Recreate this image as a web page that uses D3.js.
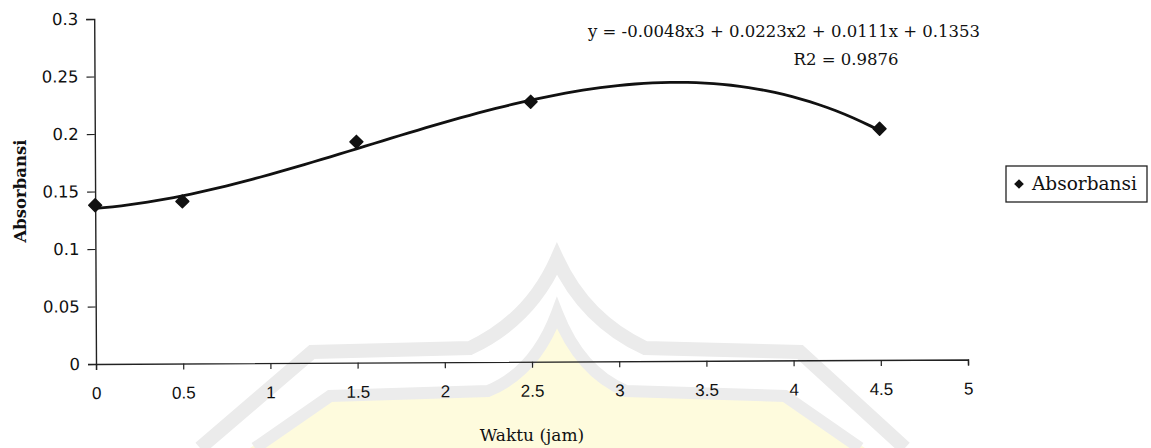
<!DOCTYPE html>
<html>
<head>
<meta charset="utf-8">
<script src="https://cdn.jsdelivr.net/npm/d3@7"></script>
<style>
  body { margin: 0; background: #fff; }
  svg { display: block; }
</style>
</head>
<body>
<div id="vis"></div>
<script>
// data
const waktu = [0, 0.5, 1.5, 2.5, 4.5];
const absorbansi = [0.138, 0.141, 0.192, 0.226, 0.201];
// trendline coefficients as printed on the chart (x^3, x^2, x, c)
const trendCoef = [-0.0048, 0.0223, 0.0111, 0.1353];
const xTicks = [0, 0.5, 1, 1.5, 2, 2.5, 3, 3.5, 4, 4.5, 5];
const yTicks = [0, 0.05, 0.1, 0.15, 0.2, 0.25, 0.3];

const W = 1151, H = 448;
const margin = {top: 19, left: 96};
const plotW = 872, plotH = 345;

const svg = d3.select('#vis').append('svg')
  .attr('width', W).attr('height', H);

// faint watermark from the scanned page
const wm = svg.append('g');
wm.append('path')
  .attr('d', 'M250,448 L330,396 L488,391 Q535,372 557,313 Q580,372 626,391 L785,396 L865,448 Z')
  .attr('fill', '#fefbdd');
wm.append('path')
  .attr('d', 'M200,448 L312,352 L470,348 Q530,320 557,259 Q585,320 645,348 L800,352 L905,448')
  .attr('fill', 'none').attr('stroke', '#ebebeb').attr('stroke-width', 14);
wm.append('path')
  .attr('d', 'M255,448 L330,396 L488,391 Q535,372 557,313 Q580,372 626,391 L785,396 L860,448')
  .attr('fill', 'none').attr('stroke', '#ececec').attr('stroke-width', 12);

// the scan is tilted a little
const g = svg.append('g')
  .attr('transform', 'translate(' + margin.left + ',' + margin.top + ') rotate(-0.3,0,' + plotH + ')');

const x = d3.scaleLinear().domain([0, 5]).range([0, plotW]);
const y = d3.scaleLinear().domain([0, 0.3]).range([plotH, 0]);

// axes
const xAxis = g.append('g')
  .attr('transform', 'translate(0,' + plotH + ')')
  .call(d3.axisBottom(x).tickValues(xTicks).tickSize(6).tickPadding(17)
    .tickFormat(d3.format('')));
const yAxis = g.append('g')
  .call(d3.axisLeft(y).tickValues(yTicks).tickSize(8).tickPadding(8)
    .tickFormat(d3.format('')));

[xAxis, yAxis].forEach(function(a) {
  a.select('.domain').attr('stroke', '#222').attr('stroke-width', 1.4);
  a.selectAll('.tick line').attr('stroke', '#222').attr('stroke-width', 1.2);
  a.selectAll('text').attr('fill', '#111');
});
xAxis.selectAll('text')
  .style('font-family', 'Liberation Sans, Arial, sans-serif')
  .style('font-size', '17px');
yAxis.selectAll('text')
  .style('font-family', 'DejaVu Sans, sans-serif')
  .style('font-size', '16.5px');

// trendline from the printed equation
const poly = function(t) {
  return trendCoef[0] * t * t * t + trendCoef[1] * t * t + trendCoef[2] * t + trendCoef[3];
};
const curveX = d3.range(0, 4.5001, 0.05);
g.append('path')
  .datum(curveX)
  .attr('fill', 'none')
  .attr('stroke', '#111')
  .attr('stroke-width', 2.8)
  .attr('d', d3.line().x(function(d) { return x(d); }).y(function(d) { return y(poly(d)); }));

// diamond markers
const diamond = d3.symbol().type(d3.symbolDiamond2).size(105);
g.selectAll('.pt')
  .data(waktu)
  .enter()
  .append('path')
  .attr('class', 'pt')
  .attr('transform', function(d, i) {
    return 'translate(' + x(d) + ',' + y(absorbansi[i]) + ')';
  })
  .attr('d', diamond)
  .attr('fill', '#111')
  .attr('stroke', '#111')
  .attr('stroke-width', 1.5)
  .attr('stroke-linejoin', 'round');

// axis titles
svg.append('text')
  .attr('x', 532)
  .attr('y', 441)
  .attr('text-anchor', 'middle')
  .style('font-family', 'DejaVu Serif, serif')
  .style('font-size', '17px')
  .attr('fill', '#111')
  .text('Waktu (jam)');

svg.append('text')
  .attr('transform', 'translate(26,191) rotate(-90)')
  .attr('text-anchor', 'middle')
  .style('font-family', 'DejaVu Serif, serif')
  .style('font-size', '16.5px')
  .style('font-weight', 'bold')
  .attr('fill', '#111')
  .text('Absorbansi');

// equation label
svg.append('text')
  .attr('x', 784)
  .attr('y', 37)
  .attr('text-anchor', 'middle')
  .style('font-family', 'DejaVu Serif, serif')
  .style('font-size', '16.5px')
  .attr('fill', '#111')
  .text('y = -0.0048x3 + 0.0223x2 + 0.0111x + 0.1353');
svg.append('text')
  .attr('x', 846)
  .attr('y', 65)
  .attr('text-anchor', 'middle')
  .style('font-family', 'DejaVu Serif, serif')
  .style('font-size', '16.5px')
  .attr('fill', '#111')
  .text('R2 = 0.9876');

// legend
const lg = svg.append('g');
lg.append('rect')
  .attr('x', 1006).attr('y', 166)
  .attr('width', 141).attr('height', 36)
  .attr('fill', '#fff').attr('stroke', '#222').attr('stroke-width', 1.3);
lg.append('path')
  .attr('transform', 'translate(1019,184)')
  .attr('d', d3.symbol().type(d3.symbolDiamond2).size(60))
  .attr('fill', '#111');
lg.append('text')
  .attr('x', 1032).attr('y', 190)
  .style('font-family', 'DejaVu Serif, serif')
  .style('font-size', '18.5px')
  .attr('fill', '#111')
  .text('Absorbansi');
</script>
</body>
</html>
